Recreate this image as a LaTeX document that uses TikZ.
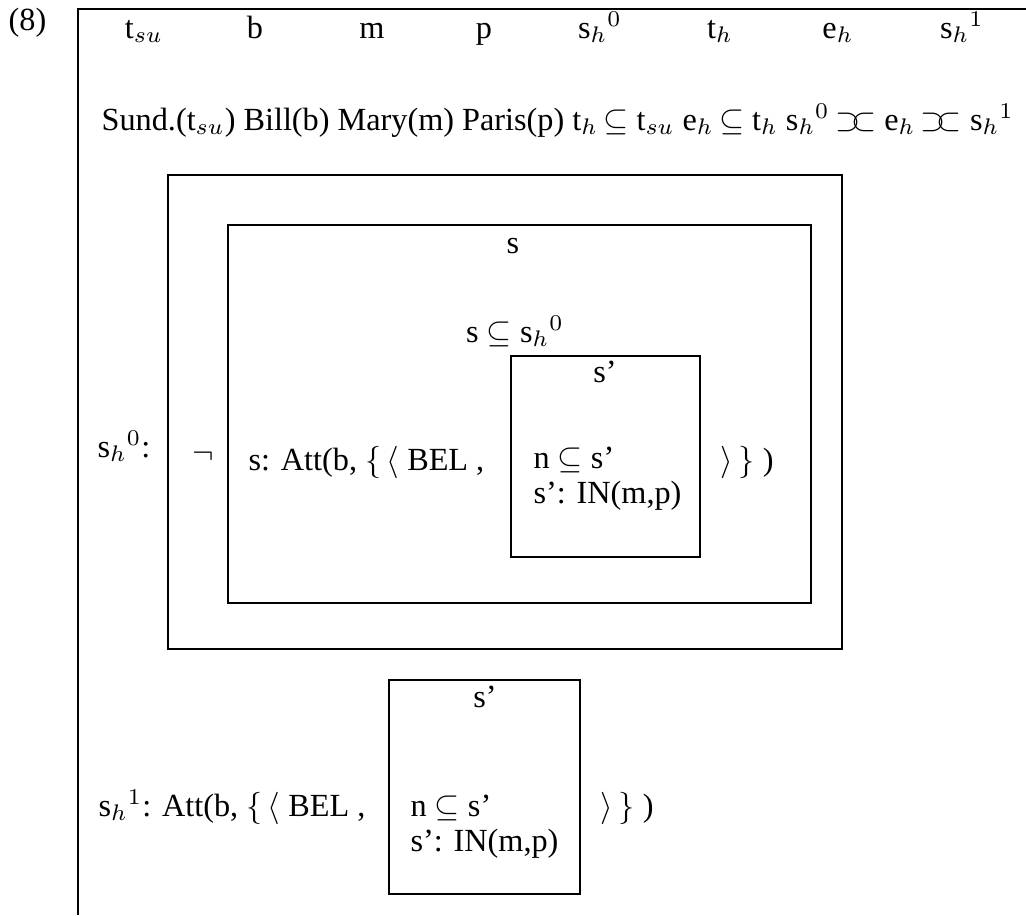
\documentclass[tikz,border=0pt]{standalone}
\usepackage{fontspec}
\setmainfont{Liberation Serif}
\newcommand{\abut}{\mathrel{\supset\mkern-5mu\subset}}
\tikzset{
  drs/.style={line width=0.6pt},
  lab/.style={inner sep=0pt,anchor=base},
  cond/.style={inner sep=0pt,anchor=base west}
}
\begin{document}
\begin{tikzpicture}[x=0.31pt,y=-0.31pt]
  \useasboundingbox (0,0) rectangle (1026,915);
  \node[cond] (ex) at (8,30) {(8)};

  % main box, runs off at right and bottom
  \draw[drs] (78,915) -- (78,9) -- (1026,9);

  % referents
  \foreach \x/\r/\n in {144/t$_{su}$/tsu,255/b/b,372/m/m,484/p/p,600/s$_h{}^0$/sh0,720/t$_h$/th,838/e$_h$/eh,962/s$_h{}^1$/sh1}
    \node[lab] (\n) at (\x,38) {\r};

  % conditions
  \node[cond] (conds) at (101,130) {\thickmuskip=3mu Sund.(t$_{su}$) Bill(b) Mary(m) Paris(p) t$_h \subseteq$ t$_{su}$ e$_h \subseteq$ t$_h$ s$_h{}^0 \abut$ e$_h \abut$ s$_h{}^1$};

  % s_h^0 : negated box
  \node[cond] (sh0lab) at (97,457) {s$_h{}^0$:};
  \draw[drs] (168,175) rectangle (842,649);
  \node[lab] (neg) at (203,463) {$\neg$};
  \draw[drs] (228,225) rectangle (811,603);
  \node[lab] (s) at (513,253) {s};
  \node[lab] (sinc) at (515,342) {s $\subseteq$ s$_h{}^0$};
  \node[cond] (att0) at (248,470) {s: Att(b, $\{\,\langle$\ BEL ,};
  \draw[drs] (511,356) rectangle (700,557);
  \node[lab] (sp0) at (605,382) {s'};
  \node[cond] (nin0) at (533,468) {n $\subseteq$ s'};
  \node[cond] (in0) at (533,503) {s': IN(m,p)};
  \node[cond] (cl0) at (720,470) {$\rangle\,\}$ )};

  % s_h^1
  \node[cond] (att1) at (98,816) {s$_h{}^1$: Att(b, $\{\,\langle$\ BEL ,};
  \draw[drs] (389,680) rectangle (580,894);
  \node[lab] (sp1) at (485,707) {s'};
  \node[cond] (nin1) at (410,816) {n $\subseteq$ s'};
  \node[cond] (in1) at (410,851) {s': IN(m,p)};
  \node[cond] (cl1) at (600,816) {$\rangle\,\}$ )};
\end{tikzpicture}
\end{document}
